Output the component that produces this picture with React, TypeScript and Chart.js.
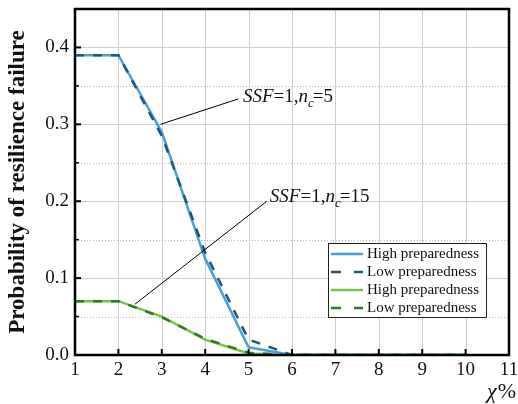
import React, { useEffect, useRef } from "react";
import { Chart, registerables } from "chart.js";

Chart.register(...registerables);

const xValues = [1, 2, 3, 4, 5, 6, 7, 8, 9, 10];
const highPrepN5 = [0.39, 0.39, 0.29, 0.125, 0.01, 0, 0, 0, 0, 0];
const lowPrepN5 = [0.39, 0.39, 0.285, 0.133, 0.02, 0, 0, 0, 0, 0];
const highPrepN15 = [0.07, 0.07, 0.05, 0.02, 0.002, 0, 0, 0, 0, 0];
const lowPrepN15 = [0.07, 0.07, 0.049, 0.021, 0.003, 0, 0, 0, 0, 0];
const yTickValues = [0, 0.1, 0.2, 0.3, 0.4];
const yMinorValues = [0.05, 0.15, 0.25, 0.35];
const xTickValues = [1, 2, 3, 4, 5, 6, 7, 8, 9, 10, 11];
const seriesLabels = ["High preparedness", "Low preparedness", "High preparedness", "Low preparedness"];
const annotations = [
  { anchor: [2.97, 0.3], end: [4.76, 0.333], text: [4.87, 0.335], nc: "5" },
  { anchor: [2.38, 0.066], end: [5.42, 0.2], text: [5.49, 0.205], nc: "15" },
];

const SERIF = '"Liberation Serif", "Times New Roman", serif';
const COLORS = ["#4b9fd3", "#1b5580", "#7cc242", "#2a7a2a"];
const DASHES: number[][] = [[], [9, 9], [], [9, 9]];

const drawPlugin = {
  id: "customDraw",
  beforeDatasetsDraw(chart: any) {
    const ctx = chart.ctx;
    const { left, right, top, bottom } = chart.chartArea;
    const xs = chart.scales.x;
    const ys = chart.scales.y;
    ctx.save();
    ctx.lineWidth = 1;
    ctx.strokeStyle = "#cfcfcf";
    xTickValues.forEach((v) => {
      const px = Math.round(xs.getPixelForValue(v)) + 0.5;
      ctx.beginPath();
      ctx.moveTo(px, top);
      ctx.lineTo(px, bottom);
      ctx.stroke();
    });
    yTickValues.forEach((v) => {
      const py = Math.round(ys.getPixelForValue(v)) + 0.5;
      ctx.beginPath();
      ctx.moveTo(left, py);
      ctx.lineTo(right, py);
      ctx.stroke();
    });
    ctx.strokeStyle = "#b5b5b5";
    ctx.setLineDash([1, 2]);
    yMinorValues.forEach((v) => {
      const py = Math.round(ys.getPixelForValue(v)) + 0.5;
      ctx.beginPath();
      ctx.moveTo(left, py);
      ctx.lineTo(right, py);
      ctx.stroke();
    });
    ctx.restore();
  },
  afterDraw(chart: any) {
    const ctx = chart.ctx;
    const { left, right, top, bottom } = chart.chartArea;
    const xs = chart.scales.x;
    const ys = chart.scales.y;
    ctx.save();
    ctx.strokeStyle = "#000";
    ctx.lineWidth = 2.5;
    ctx.setLineDash([]);
    ctx.strokeRect(left, top, right - left, bottom - top);
    ctx.lineWidth = 2;
    xTickValues.forEach((v) => {
      const px = xs.getPixelForValue(v);
      ctx.beginPath();
      ctx.moveTo(px, bottom);
      ctx.lineTo(px, bottom - 6);
      ctx.stroke();
    });
    yTickValues.forEach((v) => {
      const py = ys.getPixelForValue(v);
      ctx.beginPath();
      ctx.moveTo(left, py);
      ctx.lineTo(left + 6, py);
      ctx.stroke();
    });
    ctx.lineWidth = 1.5;
    yMinorValues.forEach((v) => {
      const py = ys.getPixelForValue(v);
      ctx.beginPath();
      ctx.moveTo(left, py);
      ctx.lineTo(left + 4, py);
      ctx.stroke();
    });

    ctx.lineWidth = 1;
    ctx.strokeStyle = "#000";
    annotations.forEach((a) => {
      ctx.beginPath();
      ctx.moveTo(xs.getPixelForValue(a.anchor[0]), ys.getPixelForValue(a.anchor[1]));
      ctx.lineTo(xs.getPixelForValue(a.end[0]), ys.getPixelForValue(a.end[1]));
      ctx.stroke();
      let tx = xs.getPixelForValue(a.text[0]);
      const ty = ys.getPixelForValue(a.text[1]);
      ctx.fillStyle = "#111";
      ctx.textBaseline = "middle";
      ctx.textAlign = "left";
      const parts: [string, string][] = [
        ["SSF", "italic"],
        ["=1,", "normal"],
        ["n", "italic"],
        ["c", "italic-sub"],
        ["=" + a.nc, "normal"],
      ];
      parts.forEach(([t, style]) => {
        if (style === "italic-sub") {
          ctx.font = `italic 13px ${SERIF}`;
          ctx.fillText(t, tx, ty + 6);
          tx += ctx.measureText(t).width - 1;
        } else {
          ctx.font = `${style === "italic" ? "italic " : ""}19px ${SERIF}`;
          ctx.fillText(t, tx, ty);
          tx += ctx.measureText(t).width;
        }
      });
    });

    const lx = 328, ly = 243, lw = 158, lh = 74;
    ctx.fillStyle = "#fff";
    ctx.fillRect(lx, ly, lw, lh);
    ctx.strokeStyle = "#222";
    ctx.lineWidth = 1;
    ctx.strokeRect(lx + 0.5, ly + 0.5, lw, lh);
    chart.data.datasets.forEach((ds: any, i: number) => {
      const cy = ly + 11 + i * 18;
      ctx.strokeStyle = ds.borderColor;
      ctx.lineWidth = 2.5;
      ctx.setLineDash(i % 2 === 1 ? [10, 13] : []);
      ctx.beginPath();
      ctx.moveTo(lx + 3, cy);
      ctx.lineTo(lx + 35, cy);
      ctx.stroke();
      ctx.setLineDash([]);
      ctx.fillStyle = "#111";
      ctx.font = `15px ${SERIF}`;
      ctx.textBaseline = "middle";
      ctx.textAlign = "left";
      ctx.fillText(ds.label, lx + 39, cy);
    });

    ctx.save();
    ctx.translate(18, (top + bottom) / 2);
    ctx.rotate(-Math.PI / 2);
    ctx.font = `bold 23px ${SERIF}`;
    ctx.fillStyle = "#111";
    ctx.textAlign = "center";
    ctx.textBaseline = "middle";
    ctx.fillText("Probability of resilience failure", 0, 0);
    ctx.restore();

    ctx.font = `italic 22px ${SERIF}`;
    ctx.fillStyle = "#111";
    ctx.textAlign = "left";
    ctx.textBaseline = "middle";
    const chiW = ctx.measureText("\u03C7").width;
    ctx.fillText("\u03C7", 487, 392);
    ctx.font = `22px ${SERIF}`;
    ctx.fillText("%", 487 + chiW + 1, 392);

    ctx.restore();
  },
};

export default function App() {
  const ref = useRef<HTMLCanvasElement | null>(null);
  useEffect(() => {
    if (!ref.current) return;
    const series = [highPrepN5, lowPrepN5, highPrepN15, lowPrepN15];
    const order = [1, 0, 3, 2];
    const chart = new Chart(ref.current, {
      type: "line",
      data: {
        datasets: series.map((s, i) => ({
          label: seriesLabels[i],
          data: xValues.map((x, j) => ({ x, y: s[j] })),
          borderColor: COLORS[i],
          backgroundColor: COLORS[i],
          borderWidth: 2.5,
          borderDash: DASHES[i],
          pointRadius: 0,
          tension: 0,
          order: order[i],
        })),
      },
      options: {
        animation: false,
        responsive: false,
        maintainAspectRatio: false,
        layout: { padding: { top: 9, right: 9, left: 0, bottom: 0 } },
        plugins: { legend: { display: false }, tooltip: { enabled: false } },
        scales: {
          x: {
            type: "linear",
            min: 1,
            max: 11,
            grid: { display: false, drawTicks: false },
            border: { display: false },
            ticks: {
              stepSize: 1,
              padding: 6,
              color: "#111",
              font: { family: SERIF, size: 19, lineHeight: 1.0 },
              maxRotation: 0,
            },
            afterFit: (s: any) => {
              s.height = 49;
              s.paddingLeft = 0;
              s.paddingRight = 0;
            },
          },
          y: {
            type: "linear",
            min: 0,
            max: 0.45,
            grid: { display: false, drawTicks: false },
            border: { display: false },
            afterBuildTicks: (s: any) => {
              s.ticks = yTickValues.map((v) => ({ value: v }));
            },
            ticks: {
              padding: 6,
              color: "#111",
              font: { family: SERIF, size: 19, lineHeight: 1.0 },
              callback: (v: any) => Number(v).toFixed(1),
            },
            afterFit: (s: any) => {
              s.width = 75;
              s.paddingTop = 0;
              s.paddingBottom = 0;
            },
          },
        },
      },
      plugins: [drawPlugin],
    });
    return () => chart.destroy();
  }, []);
  return (
    <div style={{ position: "fixed", left: 0, top: 0, width: 518, height: 404, background: "#fff" }}>
      <canvas ref={ref} width={518} height={404} style={{ display: "block" }} />
    </div>
  );
}
